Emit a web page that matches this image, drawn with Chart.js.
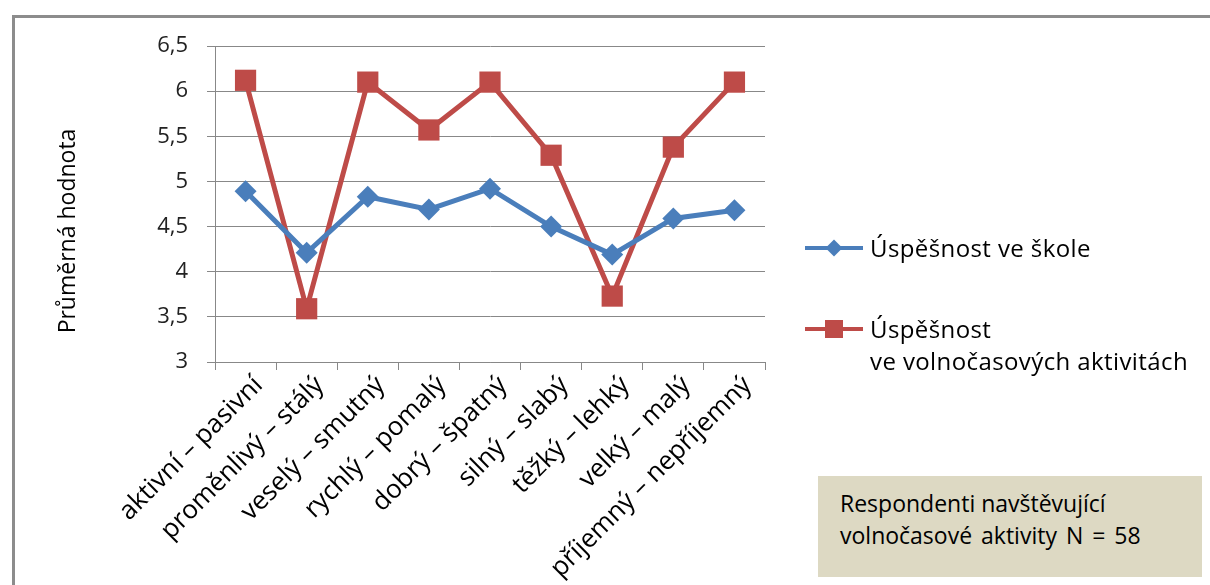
<!DOCTYPE html>
<html>
<head>
<meta charset="utf-8">
<script src="https://cdn.jsdelivr.net/npm/chart.js@4.4.1/dist/chart.umd.min.js"></script>
<style>
  body { margin: 0; background: #fff; font-family: "Open Sans", sans-serif; }
  #wrap { position: relative; width: 1210px; height: 585px; overflow: hidden; }
  #frame { position: absolute; left: 12px; top: 15px; width: 1300px; height: 700px;
           border-left: 3px solid #8c8c8c; border-top: 3px solid #8c8c8c; }
  canvas { position: absolute; left: 0; top: 0; }
  .leg { position: absolute; left: 805px; font-size: 24px; letter-spacing: 0.4px; color: #000; line-height: 32px; }
  .leg .mk { position: absolute; left: 0; width: 58px; height: 4px; }
  .leg .txt { position: absolute; left: 65px; white-space: nowrap; }
  #note { position: absolute; left: 818px; top: 476px; width: 362px; height: 101px;
          background: #ddd9c3; padding-left: 22px; font-size: 23px; line-height: 32px; color: #000; }
  #note div { white-space: nowrap; }
  #note div:first-child { margin-top: 11px; }
  #note div:last-child { word-spacing: 3px; }
</style>
</head>
<body>
<div id="wrap">
  <div id="frame"></div>
  <canvas id="lineChart" width="1210" height="585"></canvas>
  <div id="legend"></div>
  <div id="note"><div>Respondenti navštěvující</div><div>volnočasové aktivity N = 58</div></div>
</div>
<script>
var categories = ["aktivní – pasivní", "proměnlivý – stálý", "veselý – smutný", "rychlý – pomalý",
  "dobrý – špatný", "silný – slabý", "těžký – lehký", "velký – malý", "příjemný – nepříjemný"];

var skolaData = [4.89, 4.21, 4.83, 4.69, 4.92, 4.50, 4.19, 4.59, 4.68];
var volnyCasData = [6.12, 3.59, 6.10, 5.57, 6.10, 5.29, 3.73, 5.38, 6.10];

var seriesNames = [["Úspěšnost ve škole"], ["Úspěšnost", "ve volnočasových aktivitách"]];
var yTicks = [3, 3.5, 4, 4.5, 5, 5.5, 6, 6.5];
var yTitle = "Průměrná hodnota";

var blue = "#4a7ebb";
var red = "#be4b48";

// slightly wider letter spacing for all canvas text, and the y axis title
// drawn a bit lower than the axis centre like the original
var textPlugin = {
  id: 'textTweaks',
  beforeInit: function(chart) {
    chart.ctx.letterSpacing = '0.6px';
  },
  afterDraw: function(chart) {
    var ctx = chart.ctx;
    ctx.save();
    ctx.translate(68, 231);
    ctx.rotate(-Math.PI / 2);
    ctx.font = '23px "Open Sans"';
    ctx.fillStyle = '#000';
    ctx.textAlign = 'center';
    ctx.textBaseline = 'middle';
    ctx.fillText(yTitle, 0, 0);
    ctx.restore();
  }
};

var lineChart = new Chart(document.getElementById('lineChart'), {
  type: 'line',
  data: {
    labels: categories,
    datasets: [
      {
        label: seriesNames[0].join(" "),
        data: skolaData,
        borderColor: blue,
        backgroundColor: blue,
        borderWidth: 5,
        pointStyle: 'rectRot',
        pointRadius: 11,
        pointBorderWidth: 0,
        tension: 0
      },
      {
        label: seriesNames[1].join(" "),
        data: volnyCasData,
        borderColor: red,
        backgroundColor: red,
        borderWidth: 5,
        pointStyle: 'rect',
        pointRadius: 15,
        pointBorderWidth: 0,
        tension: 0
      }
    ]
  },
  plugins: [textPlugin],
  options: {
    responsive: false,
    animation: false,
    layout: { padding: { left: 53, top: 46, right: 445, bottom: 0 } },
    plugins: { legend: { display: false }, tooltip: { enabled: false } },
    scales: {
      x: {
        offset: true,
        grid: { drawOnChartArea: false, offset: true, tickLength: 8, color: "#888" },
        border: { color: "#888" },
        ticks: { maxRotation: 45, minRotation: 45, padding: 0, labelOffset: 13, color: "#000",
                 font: { family: "Open Sans", size: 26 } },
        afterFit: function(scale) { scale.height = 585 - 362; }
      },
      y: {
        min: 3,
        max: 6.5,
        afterBuildTicks: function(scale) {
          scale.ticks = yTicks.map(function(v) { return { value: v }; });
        },
        grid: { color: "#888", tickLength: 8 },
        border: { color: "#888" },
        ticks: {
          padding: 19,
          color: "#222",
          font: { family: "Open Sans", size: 22 },
          callback: function(v) { return String(v).replace('.', ','); }
        },
        afterFit: function(scale) { scale.width = 215 - 53; }
      }
    }
  }
});

// legend built from datasets
var legend = document.getElementById('legend');
var legTops = [248, 329];
lineChart.data.datasets.forEach(function(ds, i) {
  var item = document.createElement('div');
  item.className = 'leg';
  item.style.top = (legTops[i] - 16) + 'px';
  var mk = document.createElement('div');
  mk.className = 'mk';
  mk.style.background = ds.borderColor;
  mk.style.top = '14px';
  var dot = document.createElement('div');
  dot.style.position = 'absolute';
  dot.style.background = ds.borderColor;
  if (ds.pointStyle === 'rectRot') {
    dot.style.width = '12px'; dot.style.height = '12px';
    dot.style.left = '23px'; dot.style.top = '-4px';
    dot.style.transform = 'rotate(45deg)';
  } else {
    dot.style.width = '18px'; dot.style.height = '18px';
    dot.style.left = '20px'; dot.style.top = '-7px';
  }
  mk.appendChild(dot);
  item.appendChild(mk);
  var txt = document.createElement('div');
  txt.className = 'txt';
  txt.innerHTML = seriesNames[i].join('<br>');
  item.appendChild(txt);
  legend.appendChild(item);
});
</script>
</body>
</html>
